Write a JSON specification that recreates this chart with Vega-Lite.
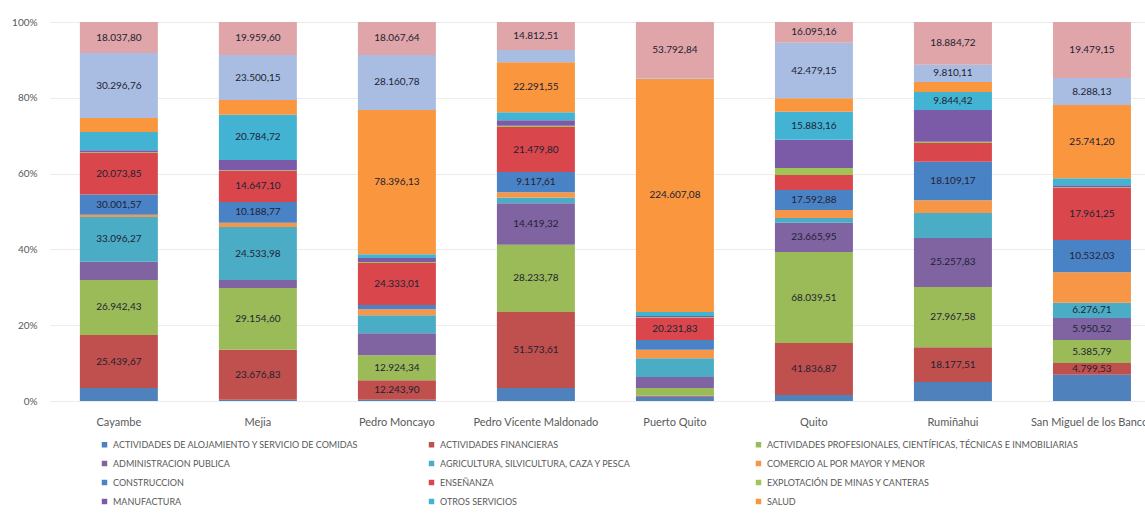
{
 "$schema": "https://vega.github.io/schema/vega-lite/v6.json",
 "autosize": {"type": "none"},
 "padding": {"left": 50, "top": 22, "right": 0, "bottom": 114},
 "width": 1095,
 "height": 379,
 "background": "white",
 "config": {"font": "Lato", "view": {"stroke": null}},
 "datasets": {
  "sectors": [
   {"s": 1, "sector": "ACTIVIDADES DE ALOJAMIENTO Y SERVICIO DE COMIDAS"},
   {"s": 2, "sector": "ACTIVIDADES FINANCIERAS"},
   {"s": 3, "sector": "ACTIVIDADES PROFESIONALES, CIENTÍFICAS, TÉCNICAS E INMOBILIARIAS"},
   {"s": 4, "sector": "ADMINISTRACION PUBLICA"},
   {"s": 5, "sector": "AGRICULTURA, SILVICULTURA, CAZA Y PESCA"},
   {"s": 6, "sector": "COMERCIO AL POR MAYOR Y MENOR"},
   {"s": 7, "sector": "CONSTRUCCION"},
   {"s": 8, "sector": "ENSEÑANZA"},
   {"s": 9, "sector": "EXPLOTACIÓN DE MINAS Y CANTERAS"},
   {"s": 10, "sector": "MANUFACTURA"},
   {"s": 11, "sector": "OTROS SERVICIOS"},
   {"s": 12, "sector": "SALUD"},
   {"s": 13, "sector": "SUMINISTRO DE ELECTRICIDAD, GAS, VAPOR Y AIRE ACONDICIONADO"},
   {"s": 14, "sector": "TRANSPORTE, ALMACENAMIENTO INFORMACIÓN Y COMUNICACIÓN"}
  ],
  "rows": [
   {"c": "Cayambe", "s": 1, "v": 3.4, "l": ""},
   {"c": "Cayambe", "s": 2, "v": 14.0, "l": "25.439,67"},
   {"c": "Cayambe", "s": 3, "v": 14.5, "l": "26.942,43"},
   {"c": "Cayambe", "s": 4, "v": 4.8, "l": ""},
   {"c": "Cayambe", "s": 5, "v": 11.8, "l": "33.096,27"},
   {"c": "Cayambe", "s": 6, "v": 0.6, "l": ""},
   {"c": "Cayambe", "s": 7, "v": 5.3, "l": "30.001,57"},
   {"c": "Cayambe", "s": 8, "v": 11.0, "l": "20.073,85"},
   {"c": "Cayambe", "s": 9, "v": 0.2, "l": ""},
   {"c": "Cayambe", "s": 10, "v": 0.5, "l": ""},
   {"c": "Cayambe", "s": 11, "v": 4.8, "l": ""},
   {"c": "Cayambe", "s": 12, "v": 3.7, "l": ""},
   {"c": "Cayambe", "s": 13, "v": 17.1, "l": "30.296,76"},
   {"c": "Cayambe", "s": 14, "v": 8.2, "l": "18.037,80"},
   {"c": "Mejia", "s": 1, "v": 0.3, "l": ""},
   {"c": "Mejia", "s": 2, "v": 13.2, "l": "23.676,83"},
   {"c": "Mejia", "s": 3, "v": 16.3, "l": "29.154,60"},
   {"c": "Mejia", "s": 4, "v": 2.1, "l": ""},
   {"c": "Mejia", "s": 5, "v": 14.0, "l": "24.533,98"},
   {"c": "Mejia", "s": 6, "v": 1.1, "l": ""},
   {"c": "Mejia", "s": 7, "v": 5.5, "l": "10.188,77"},
   {"c": "Mejia", "s": 8, "v": 8.2, "l": "14.647,10"},
   {"c": "Mejia", "s": 9, "v": 0.2, "l": ""},
   {"c": "Mejia", "s": 10, "v": 2.7, "l": ""},
   {"c": "Mejia", "s": 11, "v": 11.9, "l": "20.784,72"},
   {"c": "Mejia", "s": 12, "v": 3.9, "l": ""},
   {"c": "Mejia", "s": 13, "v": 11.9, "l": "23.500,15"},
   {"c": "Mejia", "s": 14, "v": 8.7, "l": "19.959,60"},
   {"c": "Pedro Moncayo", "s": 1, "v": 0.3, "l": ""},
   {"c": "Pedro Moncayo", "s": 2, "v": 5.2, "l": "12.243,90"},
   {"c": "Pedro Moncayo", "s": 3, "v": 6.6, "l": "12.924,34"},
   {"c": "Pedro Moncayo", "s": 4, "v": 5.8, "l": ""},
   {"c": "Pedro Moncayo", "s": 5, "v": 4.7, "l": ""},
   {"c": "Pedro Moncayo", "s": 6, "v": 1.6, "l": ""},
   {"c": "Pedro Moncayo", "s": 7, "v": 1.1, "l": ""},
   {"c": "Pedro Moncayo", "s": 8, "v": 11.1, "l": "24.333,01"},
   {"c": "Pedro Moncayo", "s": 9, "v": 0.3, "l": ""},
   {"c": "Pedro Moncayo", "s": 10, "v": 1.0, "l": ""},
   {"c": "Pedro Moncayo", "s": 11, "v": 1.0, "l": ""},
   {"c": "Pedro Moncayo", "s": 12, "v": 38.1, "l": "78.396,13"},
   {"c": "Pedro Moncayo", "s": 13, "v": 14.5, "l": "28.160,78"},
   {"c": "Pedro Moncayo", "s": 14, "v": 8.7, "l": "18.067,64"},
   {"c": "Pedro Vicente Maldonado", "s": 1, "v": 3.4, "l": ""},
   {"c": "Pedro Vicente Maldonado", "s": 2, "v": 20.1, "l": "51.573,61"},
   {"c": "Pedro Vicente Maldonado", "s": 3, "v": 17.7, "l": "28.233,78"},
   {"c": "Pedro Vicente Maldonado", "s": 4, "v": 11.0, "l": "14.419,32"},
   {"c": "Pedro Vicente Maldonado", "s": 5, "v": 1.5, "l": ""},
   {"c": "Pedro Vicente Maldonado", "s": 6, "v": 1.4, "l": ""},
   {"c": "Pedro Vicente Maldonado", "s": 7, "v": 5.3, "l": "9.117,61"},
   {"c": "Pedro Vicente Maldonado", "s": 8, "v": 11.9, "l": "21.479,80"},
   {"c": "Pedro Vicente Maldonado", "s": 9, "v": 0.3, "l": ""},
   {"c": "Pedro Vicente Maldonado", "s": 10, "v": 1.5, "l": ""},
   {"c": "Pedro Vicente Maldonado", "s": 11, "v": 2.1, "l": ""},
   {"c": "Pedro Vicente Maldonado", "s": 12, "v": 13.2, "l": "22.291,55"},
   {"c": "Pedro Vicente Maldonado", "s": 13, "v": 3.2, "l": ""},
   {"c": "Pedro Vicente Maldonado", "s": 14, "v": 7.4, "l": "14.812,51"},
   {"c": "Puerto Quito", "s": 1, "v": 1.1, "l": ""},
   {"c": "Puerto Quito", "s": 2, "v": 0.3, "l": ""},
   {"c": "Puerto Quito", "s": 3, "v": 2.0, "l": ""},
   {"c": "Puerto Quito", "s": 4, "v": 2.9, "l": ""},
   {"c": "Puerto Quito", "s": 5, "v": 5.0, "l": ""},
   {"c": "Puerto Quito", "s": 6, "v": 2.2, "l": ""},
   {"c": "Puerto Quito", "s": 7, "v": 2.6, "l": ""},
   {"c": "Puerto Quito", "s": 8, "v": 5.8, "l": "20.231,83"},
   {"c": "Puerto Quito", "s": 9, "v": 0.2, "l": ""},
   {"c": "Puerto Quito", "s": 10, "v": 0.3, "l": ""},
   {"c": "Puerto Quito", "s": 11, "v": 1.1, "l": ""},
   {"c": "Puerto Quito", "s": 12, "v": 61.5, "l": "224.607,08"},
   {"c": "Puerto Quito", "s": 13, "v": 0.2, "l": ""},
   {"c": "Puerto Quito", "s": 14, "v": 14.8, "l": "53.792,84"},
   {"c": "Quito", "s": 1, "v": 1.6, "l": ""},
   {"c": "Quito", "s": 2, "v": 13.7, "l": "41.836,87"},
   {"c": "Quito", "s": 3, "v": 24.0, "l": "68.039,51"},
   {"c": "Quito", "s": 4, "v": 7.7, "l": "23.665,95"},
   {"c": "Quito", "s": 5, "v": 1.3, "l": ""},
   {"c": "Quito", "s": 6, "v": 2.1, "l": ""},
   {"c": "Quito", "s": 7, "v": 5.3, "l": "17.592,88"},
   {"c": "Quito", "s": 8, "v": 3.9, "l": ""},
   {"c": "Quito", "s": 9, "v": 1.9, "l": ""},
   {"c": "Quito", "s": 10, "v": 7.4, "l": ""},
   {"c": "Quito", "s": 11, "v": 7.4, "l": "15.883,16"},
   {"c": "Quito", "s": 12, "v": 3.6, "l": ""},
   {"c": "Quito", "s": 13, "v": 14.6, "l": "42.479,15"},
   {"c": "Quito", "s": 14, "v": 5.5, "l": "16.095,16"},
   {"c": "Rumiñahui", "s": 1, "v": 5.0, "l": ""},
   {"c": "Rumiñahui", "s": 2, "v": 9.2, "l": "18.177,51"},
   {"c": "Rumiñahui", "s": 3, "v": 15.9, "l": "27.967,58"},
   {"c": "Rumiñahui", "s": 4, "v": 12.9, "l": "25.257,83"},
   {"c": "Rumiñahui", "s": 5, "v": 6.6, "l": ""},
   {"c": "Rumiñahui", "s": 6, "v": 3.4, "l": ""},
   {"c": "Rumiñahui", "s": 7, "v": 10.1, "l": "18.109,17"},
   {"c": "Rumiñahui", "s": 8, "v": 5.0, "l": ""},
   {"c": "Rumiñahui", "s": 9, "v": 0.3, "l": ""},
   {"c": "Rumiñahui", "s": 10, "v": 8.4, "l": ""},
   {"c": "Rumiñahui", "s": 11, "v": 4.7, "l": "9.844,42"},
   {"c": "Rumiñahui", "s": 12, "v": 2.7, "l": ""},
   {"c": "Rumiñahui", "s": 13, "v": 4.5, "l": "9.810,11"},
   {"c": "Rumiñahui", "s": 14, "v": 11.3, "l": "18.884,72"},
   {"c": "San Miguel de los Bancos", "s": 1, "v": 6.9, "l": ""},
   {"c": "San Miguel de los Bancos", "s": 2, "v": 3.1, "l": "4.799,53"},
   {"c": "San Miguel de los Bancos", "s": 3, "v": 6.1, "l": "5.385,79"},
   {"c": "San Miguel de los Bancos", "s": 4, "v": 5.8, "l": "5.950,52"},
   {"c": "San Miguel de los Bancos", "s": 5, "v": 4.0, "l": "6.276,71"},
   {"c": "San Miguel de los Bancos", "s": 6, "v": 8.1, "l": ""},
   {"c": "San Miguel de los Bancos", "s": 7, "v": 8.5, "l": "10.532,03"},
   {"c": "San Miguel de los Bancos", "s": 8, "v": 13.7, "l": "17.961,25"},
   {"c": "San Miguel de los Bancos", "s": 9, "v": 0.2, "l": ""},
   {"c": "San Miguel de los Bancos", "s": 10, "v": 0.5, "l": ""},
   {"c": "San Miguel de los Bancos", "s": 11, "v": 1.9, "l": ""},
   {"c": "San Miguel de los Bancos", "s": 12, "v": 19.3, "l": "25.741,20"},
   {"c": "San Miguel de los Bancos", "s": 13, "v": 7.1, "l": "8.288,13"},
   {"c": "San Miguel de los Bancos", "s": 14, "v": 14.8, "l": "19.479,15"}
  ]
 },
 "data": {"name": "rows"},
 "transform": [
  {"lookup": "s", "from": {"data": {"name": "sectors"}, "key": "s", "fields": ["sector"]}},
  {"stack": "v", "groupby": ["c"], "sort": [{"field": "s", "order": "ascending"}], "offset": "normalize", "as": ["y0", "y1"]},
  {"calculate": "(datum.y0 + datum.y1) / 2", "as": "ym"}
 ],
 "encoding": {
  "x": {
   "field": "c", "type": "nominal",
   "sort": ["Cayambe", "Mejia", "Pedro Moncayo", "Pedro Vicente Maldonado", "Puerto Quito", "Quito", "Rumiñahui", "San Miguel de los Bancos"],
   "scale": {"paddingInner": 0.439, "paddingOuter": 0.158, "align": 0.68},
   "axis": {"title": null, "labelAngle": 0, "domain": false, "ticks": false, "labelFontSize": 11, "labelColor": "#595959", "labelPadding": 15}
  }
 },
 "layer": [
  {
   "mark": {"type": "bar"},
   "encoding": {
    "y": {
     "field": "y1", "type": "quantitative", "scale": {"domain": [0, 1]},
     "axis": {"title": null, "values": [0, 0.1, 0.2, 0.3, 0.4, 0.5, 0.6, 0.7, 0.8, 0.9, 1], "format": ".0%", "domain": false, "ticks": false, "labelFontSize": 10, "labelColor": "#595959", "labelPadding": 13, "gridColor": "#ececec"}
    },
    "y2": {"field": "y0"},
    "color": {
     "field": "sector", "type": "nominal",
     "scale": {
      "domain": [
       "ACTIVIDADES DE ALOJAMIENTO Y SERVICIO DE COMIDAS",
       "ACTIVIDADES FINANCIERAS",
       "ACTIVIDADES PROFESIONALES, CIENTÍFICAS, TÉCNICAS E INMOBILIARIAS",
       "ADMINISTRACION PUBLICA",
       "AGRICULTURA, SILVICULTURA, CAZA Y PESCA",
       "COMERCIO AL POR MAYOR Y MENOR",
       "CONSTRUCCION",
       "ENSEÑANZA",
       "EXPLOTACIÓN DE MINAS Y CANTERAS",
       "MANUFACTURA",
       "OTROS SERVICIOS",
       "SALUD",
       "SUMINISTRO DE ELECTRICIDAD, GAS, VAPOR Y AIRE ACONDICIONADO",
       "TRANSPORTE, ALMACENAMIENTO INFORMACIÓN Y COMUNICACIÓN"
      ],
      "range": ["#4F81BD", "#C0504D", "#9BBB59", "#8064A2", "#4BACC6", "#F79646", "#4A82C6", "#D9474C", "#A0C456", "#7B5AA8", "#43B3D4", "#F9963E", "#A9BDE2", "#DFA5A8"]
     },
     "legend": {
      "title": null, "orient": "none", "direction": "horizontal", "legendX": 50, "legendY": 418, "columns": 3, "gridAlign": "all",
      "symbolType": "square", "symbolSize": 30, "symbolStrokeWidth": 0, "labelFontSize": 9, "labelColor": "#595959",
      "rowPadding": 9, "columnPadding": 2, "labelLimit": 500, "labelOffset": 4
     }
    }
   }
  },
  {
   "transform": [{"filter": "datum.l != ''"}],
   "mark": {"type": "text", "fontSize": 10, "color": "#222233"},
   "encoding": {
    "y": {"field": "ym", "type": "quantitative"},
    "text": {"field": "l"}
   }
  }
 ]
}
